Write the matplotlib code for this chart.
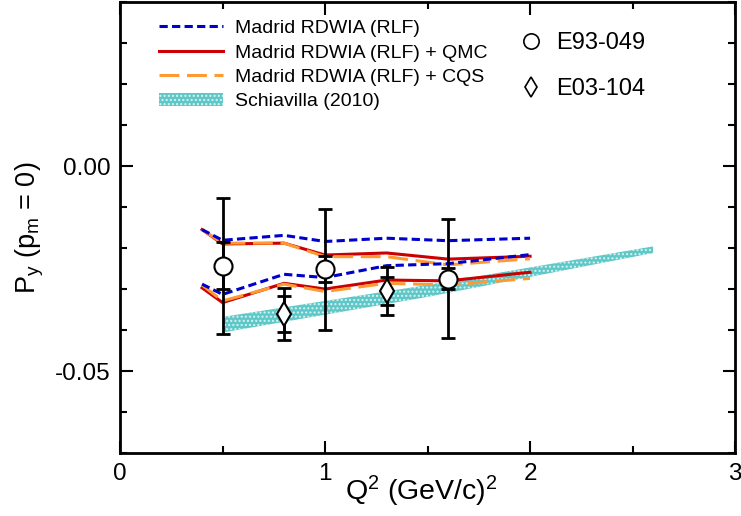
import matplotlib.pyplot as plt
from matplotlib.lines import Line2D
from matplotlib.patches import Patch
from matplotlib.ticker import MultipleLocator

plt.rcParams['font.family'] = ['Liberation Sans', 'DejaVu Sans']
plt.rcParams['mathtext.default'] = 'regular'
plt.rcParams['hatch.linewidth'] = 1.0

# Madrid RDWIA curves (two curves per model)
q2_model = [0.4, 0.5, 0.8, 1.0, 1.3, 1.6, 2.0]
rlf_upper = [-0.0155, -0.0181, -0.0169, -0.0184, -0.0176, -0.0182, -0.0176]
rlf_lower = [-0.0288, -0.0313, -0.0264, -0.0272, -0.0243, -0.0238, -0.0216]
qmc_upper = [-0.0155, -0.0190, -0.0188, -0.0217, -0.0212, -0.0227, -0.0220]
qmc_lower = [-0.0297, -0.0333, -0.0286, -0.0300, -0.0278, -0.0280, -0.0259]
cqs_upper = [-0.0155, -0.0188, -0.0188, -0.0221, -0.0221, -0.0241, -0.0226]
cqs_lower = [-0.0290, -0.0329, -0.0288, -0.0306, -0.0286, -0.0290, -0.0274]

# Schiavilla (2010) band
q2_band = [0.5, 1.5, 2.6]
band_hi = [-0.0368, -0.0290, -0.0196]
band_lo = [-0.0406, -0.0319, -0.0212]

# E93-049 data
q2_e93 = [0.5, 1.0, 1.6]
py_e93 = [-0.0243, -0.0252, -0.0275]
stat_e93 = [0.0058, 0.0032, 0.0026]
tot_e93 = [0.0166, 0.0147, 0.0145]

# E03-104 data
q2_e03 = [0.8, 1.3]
py_e03 = [-0.0361, -0.0305]
stat_e03 = [0.0044, 0.0035]
tot_e03 = [0.0064, 0.0059]

teal = '#5ec7c7'
blue = '#0000cc'
red = '#cc0000'
orange = '#ff9933'
blue_dash = (2.7, 1.4)
orange_dash = (6.5, 2.5)

fig = plt.figure(figsize=(7.41, 5.16), dpi=100)
ax = fig.add_axes([0.162, 0.122, 0.83, 0.874])

ax.fill_between(q2_band, band_lo, band_hi, facecolor=teal, edgecolor='#d8f2f2',
                hatch='....', linewidth=0, zorder=1)

ax.plot(q2_model, rlf_upper, color=blue, lw=2.2, dashes=blue_dash, zorder=3)
ax.plot(q2_model, rlf_lower, color=blue, lw=2.2, dashes=blue_dash, zorder=3)
ax.plot(q2_model, qmc_upper, color=red, lw=2.2, zorder=2)
ax.plot(q2_model, qmc_lower, color=red, lw=2.2, zorder=2)
ax.plot(q2_model, cqs_upper, color=orange, lw=2.2, dashes=orange_dash, zorder=2.5)
ax.plot(q2_model, cqs_lower, color=orange, lw=2.2, dashes=orange_dash, zorder=2.5)

# total and statistical error bars
for x, y, st, tot, m in [(q2_e93, py_e93, stat_e93, tot_e93, 'o'),
                         (q2_e03, py_e03, stat_e03, tot_e03, 'd')]:
    ax.errorbar(x, y, yerr=tot, fmt='none', ecolor='black', elinewidth=2.0,
                capsize=5, capthick=2.0, zorder=4)
    ax.errorbar(x, y, yerr=st, fmt='none', ecolor='black', elinewidth=2.0,
                capsize=5, capthick=2.0, zorder=4)
    ax.plot(x, y, m, ms=13 if m == 'o' else 12, mfc='white', mec='black',
            mew=1.5, ls='none', zorder=5)

ax.set_xlim(0, 3)
ax.set_ylim(-0.07, 0.04)
ax.xaxis.set_major_locator(MultipleLocator(1))
ax.xaxis.set_minor_locator(MultipleLocator(0.5))
ax.set_yticks([-0.05, 0.00])
ax.set_yticklabels(['-0.05', '0.00'])
ax.yaxis.set_minor_locator(MultipleLocator(0.01))
ax.tick_params(which='both', direction='in', top=True, right=True,
               labelsize=17.5, width=1.5)
ax.tick_params(which='major', length=9, pad=7)
ax.tick_params(which='minor', length=5)
for s in ax.spines.values():
    s.set_linewidth(2)

ax.set_xlabel('Q$^2$ (GeV/c)$^2$', fontsize=20.5, labelpad=-6)
ax.xaxis.set_label_coords(0.49, -0.045, transform=ax.transAxes)
ax.xaxis.label.set_va('top')
ax.set_ylabel('P$_y$ (p$_m$ = 0)', fontsize=19.5, labelpad=6)

h1 = [Line2D([], [], color=blue, lw=2.2, dashes=blue_dash),
      Line2D([], [], color=red, lw=2.2),
      Line2D([], [], color=orange, lw=2.2, dashes=orange_dash),
      Patch(facecolor=teal, edgecolor='#d8f2f2', hatch='....', lw=0)]
l1 = ['Madrid RDWIA (RLF)', 'Madrid RDWIA (RLF) + QMC',
      'Madrid RDWIA (RLF) + CQS', 'Schiavilla (2010)']
leg1 = ax.legend(h1, l1, loc='upper left', bbox_to_anchor=(0.035, 1.0),
                 fontsize=14, frameon=False, handlelength=3.3,
                 handletextpad=0.6, labelspacing=0.35)
ax.add_artist(leg1)

h2 = [Line2D([], [], marker='o', ms=11, mfc='white', mec='black', mew=1.2, ls='none'),
      Line2D([], [], marker='d', ms=10, mfc='white', mec='black', mew=1.2, ls='none')]
ax.legend(h2, ['E93-049', 'E03-104'], loc='upper left',
          bbox_to_anchor=(0.615, 0.98), fontsize=17, frameon=False,
          handlelength=1.0, handletextpad=0.55, labelspacing=1.0)

fig.savefig('out.png', dpi=100)
